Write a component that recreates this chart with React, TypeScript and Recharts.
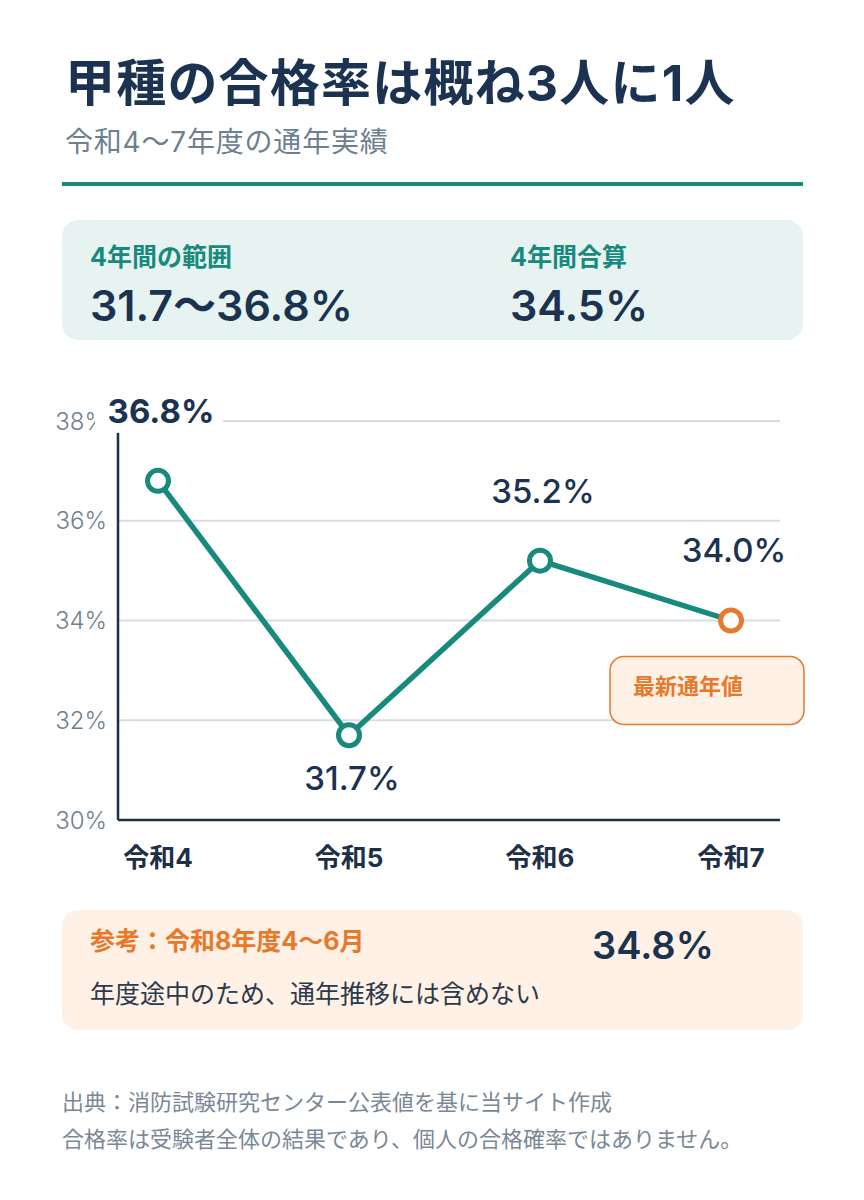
import React from 'react';
import { LineChart, Line, XAxis, YAxis, CartesianGrid, LabelList } from 'recharts';

const years = ['令和4', '令和5', '令和6', '令和7'];
const rates = [36.8, 31.7, 35.2, 34.0];
const yTicks = [30, 32, 34, 36, 38];

const NAVY = '#1b3350';
const TEAL = '#17897d';
const ORANGE = '#e8782a';
const GRAY = '#6e7f8f';
const FONT = "Inter, 'Noto Sans CJK JP', sans-serif";

const data = years.map((year, i) => ({ year, rate: rates[i] }));
const minRate = Math.min(...rates);
const maxRate = Math.max(...rates);
const lastIndex = rates.length - 1;

const renderDot = (p: any) => (
  <circle
    key={`dot-${p.index}`}
    cx={p.cx}
    cy={p.cy}
    r={10.5}
    fill="#fff"
    stroke={p.index === lastIndex ? ORANGE : TEAL}
    strokeWidth={5}
  />
);

const renderLabel = (p: any) => {
  const { x, y, value, index } = p;
  const below = value === minRate;
  const ly = below ? y + 43 : y - 70;
  const text = `${Number(value).toFixed(1)}%`;
  return (
    <g key={`lbl-${index}`}>
      <rect x={x - 63} y={ly - 18} width={128} height={40} fill="#fff" />
      <text
        x={x + 3}
        y={ly}
        dy="0.36em"
        textAnchor="middle"
        fontSize={33}
        fontWeight={value === maxRate ? 700 : 500}
        fill={NAVY}
        fontFamily={FONT}
      >
        {text}
      </text>
      {index === lastIndex && (
        <g>
          <rect
            x={x - 121}
            y={y + 36}
            width={194}
            height={68}
            rx={14}
            fill="#fff1e6"
            stroke={ORANGE}
            strokeWidth={1.5}
          />
          <text x={x - 98} y={y + 66} dy="0.35em" fontSize={22} fontWeight={700} fill={ORANGE} fontFamily={FONT}>
            最新通年値
          </text>
        </g>
      )}
    </g>
  );
};

const abs = (left: number, top: number, extra: React.CSSProperties = {}): React.CSSProperties => ({
  position: 'absolute',
  left,
  top,
  whiteSpace: 'nowrap',
  lineHeight: 1,
  ...extra,
});

export default function App() {
  return (
    <div
      style={{
        position: 'absolute',
        left: 0,
        top: 0,
        width: 864,
        height: 1200,
        background: '#fff',
        fontFamily: FONT,
        overflow: 'hidden',
      }}
    >
      <div style={abs(65, 58, { fontSize: 50, fontWeight: 700, color: NAVY, letterSpacing: 1.2 })}>
        甲種の合格率は概ね3人に1人
      </div>
      <div style={abs(65, 128, { fontSize: 28, color: GRAY, letterSpacing: 0.8 })}>令和4〜7年度の通年実績</div>
      <div style={{ position: 'absolute', left: 62, top: 182, width: 741, height: 4, background: TEAL }} />

      <div style={{ position: 'absolute', left: 62, top: 220, width: 741, height: 120, borderRadius: 16, background: '#e6f3f1' }} />
      <div style={abs(90, 245, { fontSize: 25, fontWeight: 700, color: TEAL })}>4年間の範囲</div>
      <div style={abs(90, 284, { fontSize: 43, fontWeight: 600, color: NAVY })}>31.7〜36.8%</div>
      <div style={abs(510, 245, { fontSize: 25, fontWeight: 700, color: TEAL })}>4年間合算</div>
      <div style={abs(510, 284, { fontSize: 43, fontWeight: 600, color: NAVY })}>34.5%</div>

      <div style={{ position: 'absolute', left: 0, top: 380 }}>
        <LineChart width={864} height={510} data={data} margin={{ top: 41, right: 84, left: 40, bottom: 30 }}>
          <CartesianGrid horizontal vertical={false} stroke="#d5dee6" strokeWidth={2} />
          <XAxis
            dataKey="year"
            padding={{ left: 40, right: 49 }}
            height={40}
            axisLine={{ stroke: '#1b2f47', strokeWidth: 2.5 }}
            tickLine={false}
            tickSize={0}
            tickMargin={29}
            tick={{ fontSize: 26, fontWeight: 700, fill: '#1e3048', fontFamily: FONT }}
          />
          <YAxis
            domain={[30, 38]}
            ticks={yTicks}
            width={78}
            axisLine={{ stroke: '#1b2f47', strokeWidth: 2.5 }}
            tickLine={false}
            tickSize={0}
            tickMargin={11}
            tickFormatter={(v: number) => `${v}%`}
            tick={{ fontSize: 24, fontWeight: 300, fill: GRAY, fontFamily: FONT }}
          />
          <Line
            type="linear"
            dataKey="rate"
            stroke={TEAL}
            strokeWidth={5.5}
            dot={renderDot}
            activeDot={false}
            isAnimationActive={false}
          >
            <LabelList dataKey="rate" content={renderLabel} />
          </Line>
        </LineChart>
      </div>

      <div style={{ position: 'absolute', left: 62, top: 910, width: 741, height: 120, borderRadius: 16, background: '#fff1e6' }} />
      <div style={abs(90, 929, { fontSize: 25, fontWeight: 700, color: ORANGE })}>参考：令和8年度4〜6月</div>
      <div style={abs(592, 926, { fontSize: 38, fontWeight: 600, color: NAVY })}>34.8%</div>
      <div style={abs(90, 982, { fontSize: 25, color: '#2a3a4c' })}>年度途中のため、通年推移には含めない</div>

      <div style={abs(62, 1091, { fontSize: 22, color: '#7a8896' })}>出典：消防試験研究センター公表値を基に当サイト作成</div>
      <div style={abs(62, 1128, { fontSize: 22, color: '#7a8896' })}>合格率は受験者全体の結果であり、個人の合格確率ではありません。</div>
    </div>
  );
}
